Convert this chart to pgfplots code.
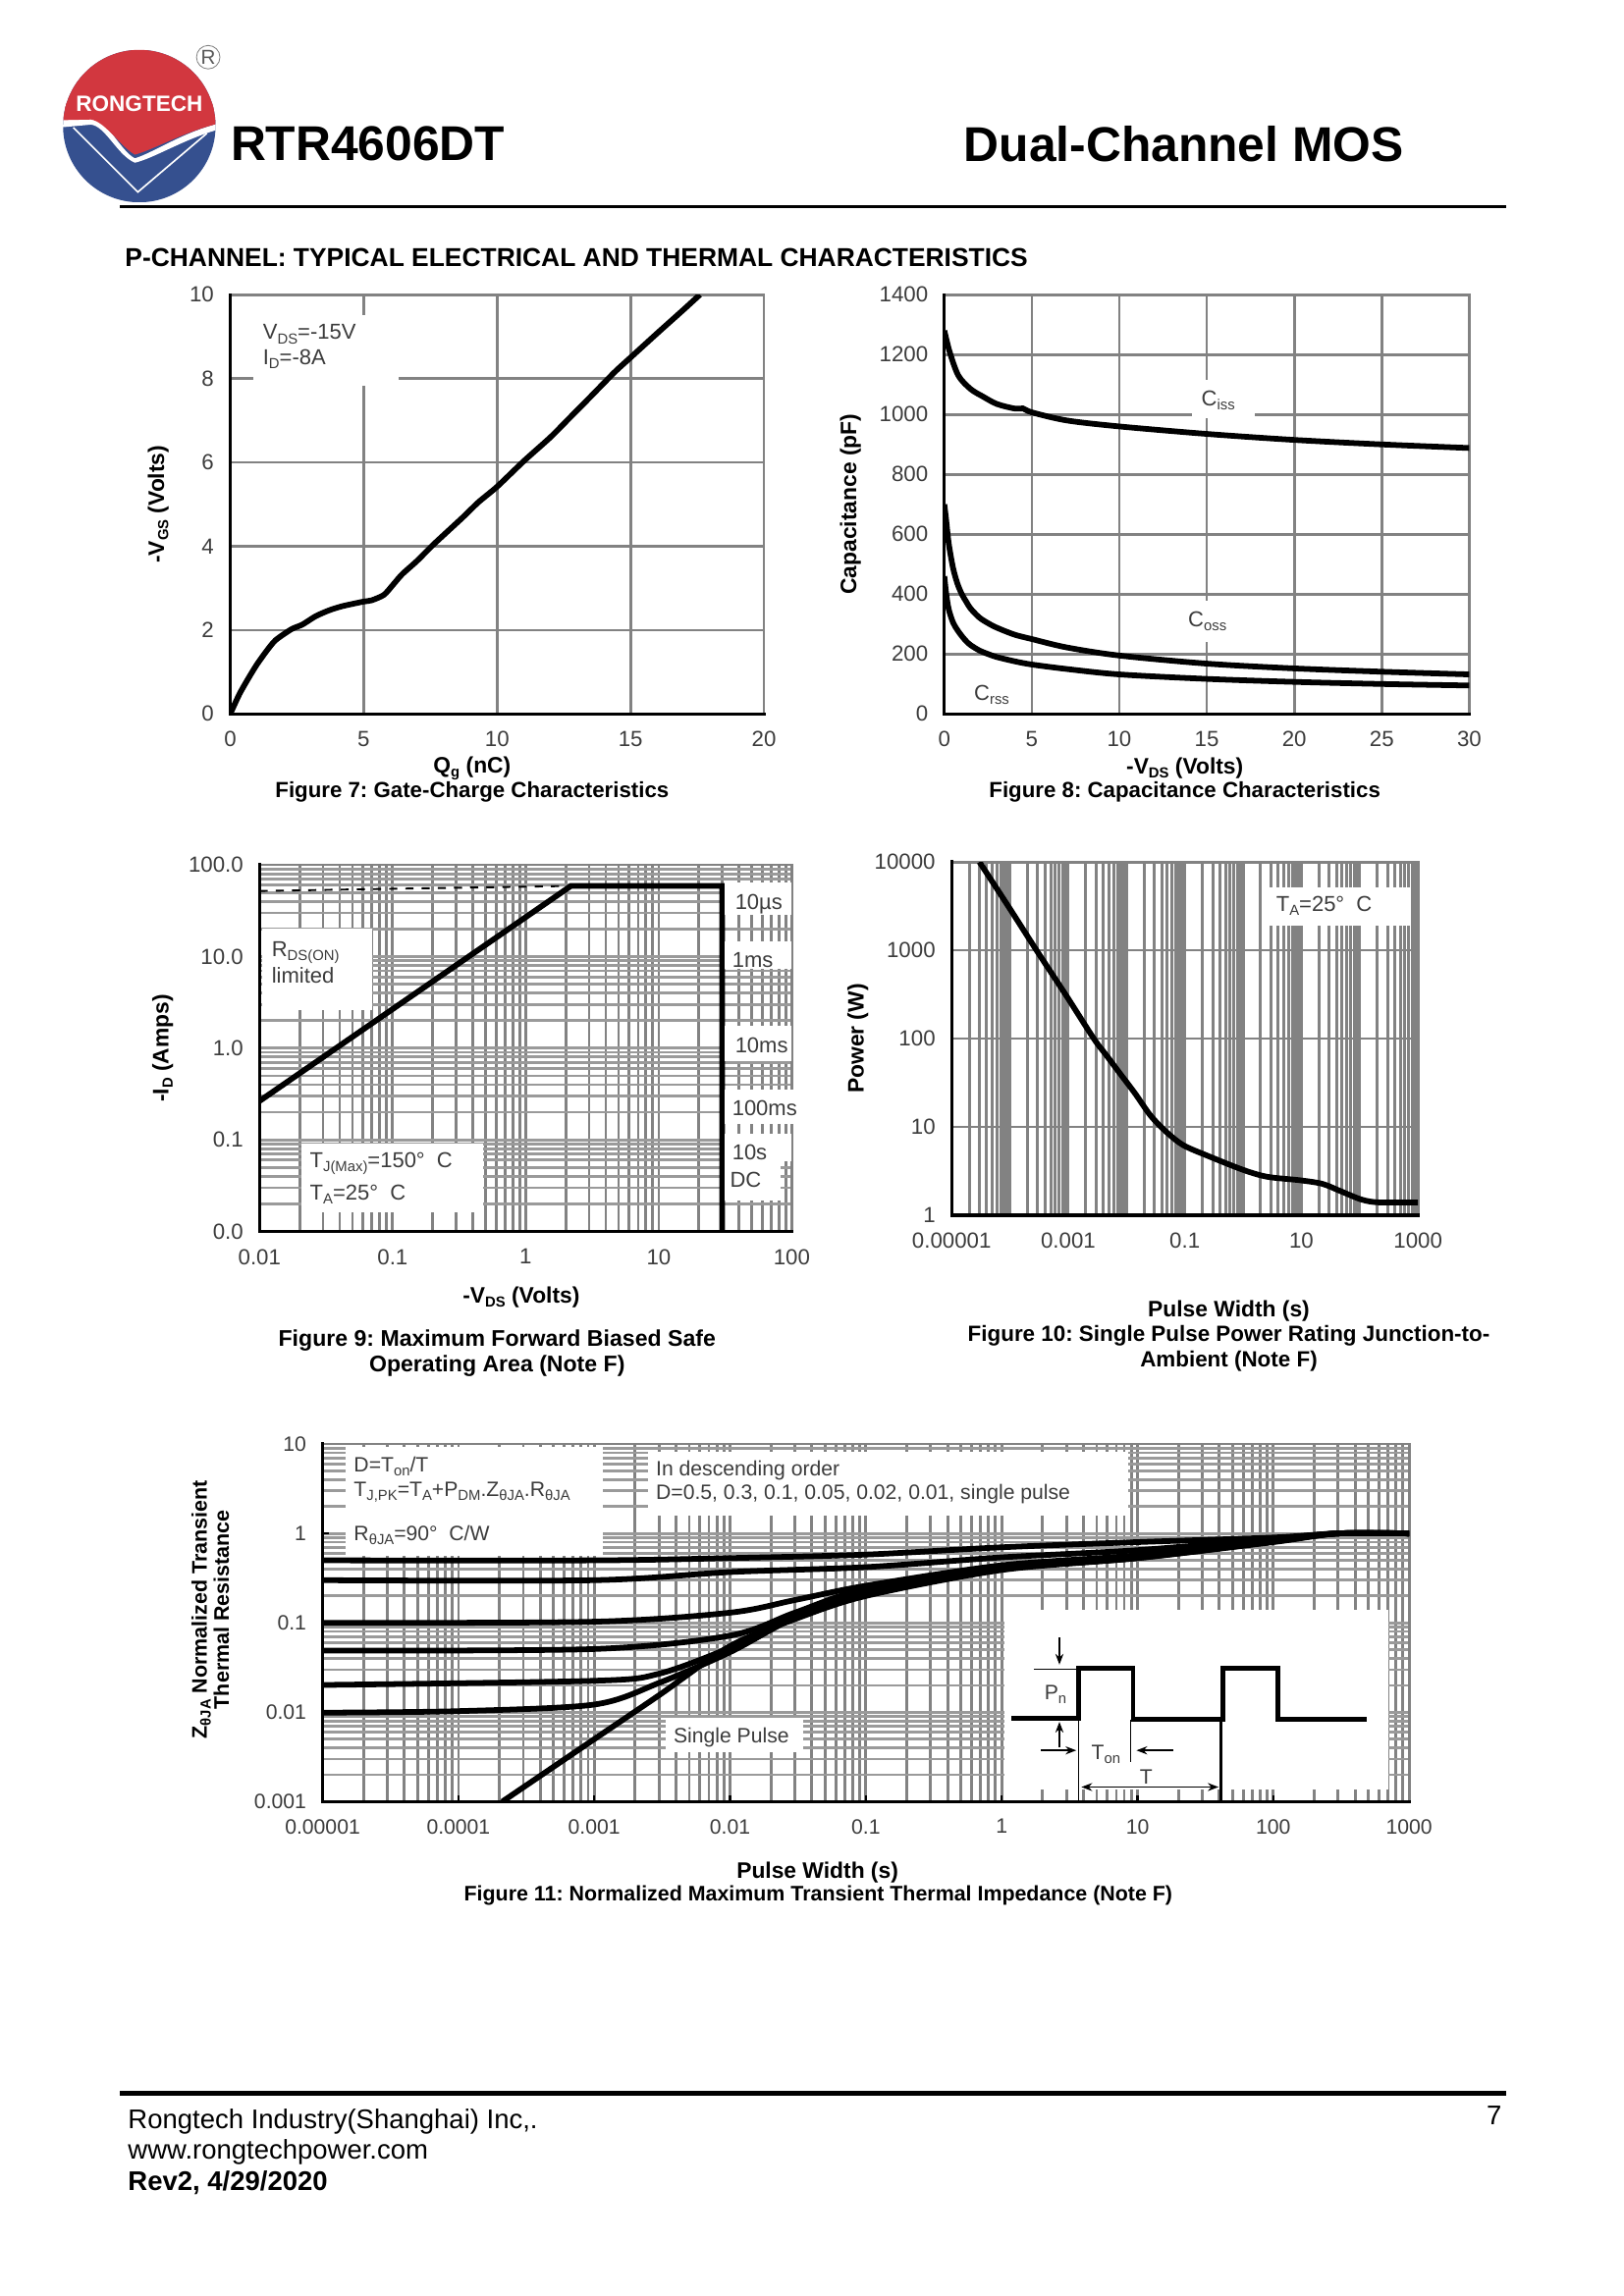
\documentclass[border=0pt]{standalone}
\usepackage{fontspec}
\setmainfont{Liberation Sans}
\usepackage{pgfplots}
\pgfplotsset{compat=1.18}
\usetikzlibrary{arrows.meta}
\frenchspacing
\def\u{0.5432pt}
\definecolor{gridgray}{HTML}{828282}
\definecolor{gridlight}{HTML}{9A9A9A}
\definecolor{txtgray}{HTML}{3C3C3C}
\definecolor{logored}{HTML}{D2373F}
\definecolor{logoblue}{HTML}{35508F}
\newcommand{\sub}[1]{\raisebox{-0.35ex}{\fontsize{5.4}{6}\selectfont #1}}
\pgfplotsset{
  chart/.style={
    scale only axis, anchor=south west,
    /pgf/number format/assume math mode=true,
    /pgf/number format/1000 sep={},
    axis line style={draw=gridgray, line width=1pt},
    tick style={draw=none},
    grid style={draw=gridgray, line width=1pt},
    tick label style={font=\fontsize{8.1}{10}\selectfont, text=txtgray},
    label style={font=\bfseries\fontsize{8.3}{9.5}\selectfont},
    xticklabel style={yshift=-3pt},
    yticklabel style={xshift=-2.5pt},
  },
  xlabpos/.style 2 args={xlabel style={at={([xshift=#1*\u,yshift=-#2*\u]axis description cs:0.5,0)},anchor=center}},
  ylabpos/.style 2 args={ylabel style={at={([xshift=-#1*\u,yshift=#2*\u]axis description cs:0,0.5)},anchor=center}},
  curve/.style={black, line width=2.1pt, no marks},
}
\tikzset{
  page/.style={x=\u, y=-\u},
  txt/.style={anchor=west, inner sep=0pt, font=\fontsize{8}{10}\selectfont, text=txtgray},
  txts/.style={anchor=west, inner sep=0pt, font=\fontsize{7.7}{10}\selectfont, text=txtgray},
  figcap/.style={inner sep=0pt, align=center, font=\bfseries\fontsize{#1}{9.5}\selectfont},
  axl/.style={black, line width=1.2pt, line cap=rect},
}
\begin{document}
\begin{tikzpicture}
\fill[white] (0,0) rectangle (1107.5*\u,-1566.2*\u);
\path[use as bounding box] (0,0) rectangle (1107.5*\u,-1566.2*\u);

% header and logo
\begin{scope}[page]
  \begin{scope}
    \clip (95,86) circle (52);
    \fill[logoblue] (43,34) rectangle (147,138);
    \fill[white] (40,79) -- (62,79) .. controls (72,80) and (82,103) .. (92,108)
      .. controls (105,104) and (125,90) .. (150,84) -- (150,88)
      .. controls (125,95) and (105,108) .. (92,111)
      .. controls (80,106) and (72,86) .. (62,85) -- (40,87) -- cycle;
    \fill[logored] (40,30) rectangle (150,75);
    \fill[logored] (40,82) -- (62,81.5) .. controls (72,83) and (82,100) .. (92,105.5)
      .. controls (105,102) and (125,90) .. (150,84) -- (150,70) -- (40,70) -- cycle;
    \draw[white, line width=0.6pt] (50,87) -- (94,131) -- (141,91);
  \end{scope}
  \node[white, inner sep=0pt, font=\bfseries\fontsize{8.2}{10}\selectfont] at (95,71) {RONGTECH};
  \draw[gray, line width=0.3pt] (142,39) circle (8);
  \node[inner sep=0pt, text=gray!70!black, font=\fontsize{7.5}{9}\selectfont] at (142,39) {R};
  \node[anchor=west, inner sep=0pt, font=\bfseries\fontsize{18.1}{20}\selectfont] at (157,98) {RTR4606DT};
  \node[anchor=west, inner sep=0pt, font=\bfseries\fontsize{18.1}{20}\selectfont] at (657,98) {Dual-Channel MOS};
  \draw[black, line width=0.9pt] (82,141) -- (1027,141);
  \node[anchor=west, inner sep=0pt, font=\bfseries\fontsize{9.6}{11}\selectfont] at (85,176)
    {P-CHANNEL: TYPICAL ELECTRICAL AND THERMAL CHARACTERISTICS};
\end{scope}

% Figure 7
\begin{axis}[chart, at={(157*\u,-487*\u)}, width=364*\u, height=286*\u,
  xmin=0, xmax=20, ymin=0, ymax=10,
  xtick={0,5,10,15,20}, ytick={0,2,4,6,8,10}, grid=major,
  xlabel={Q\sub{g} (nC)}, xlabpos={-17}{37},
  ylabel={-V\sub{GS} (Volts)}, ylabpos={49}{0}]
\addplot[curve, smooth, tension=0.4] coordinates {(0,0) (0.35,0.48) (0.7,0.87) (1,1.18) (1.36,1.5) (1.7,1.76)
  (2.29,2.02) (2.7,2.13) (3.2,2.33) (3.7,2.47) (4.2,2.57) (5,2.68) (5.3,2.71) (5.76,2.84)
  (6.1,3.08) (6.44,3.33) (7,3.65) (7.63,4.05) (8.7,4.68) (9.3,5.05) (10,5.42)
  (11,6.03) (12,6.6) (12.7,7.05) (13.4,7.5) (14.4,8.15) (15,8.5)
  (16,9.08) (17,9.65) (17.6,10)};
\end{axis}

% Figure 8
\begin{axis}[chart, at={(644*\u,-487*\u)}, width=358*\u, height=286*\u,
  xmin=0, xmax=30, ymin=0, ymax=1400,
  xtick={0,5,10,15,20,25,30}, ytick={0,200,400,600,800,1000,1200,1400}, grid=major,
  xlabel={-V\sub{DS} (Volts)}, xlabpos={-15}{37},
  ylabel={Capacitance (pF)}, ylabpos={64}{0}]
\addplot[curve, smooth] coordinates {(0,1280) (0.3,1210) (0.8,1130) (1.5,1085) (2.2,1060) (3,1035) (4,1020)
  (4.5,1020) (5,1007) (7,980) (10,960) (15,935) (20,915) (25,900) (30,888)};
\addplot[curve, smooth] coordinates {(0,700) (0.1,650) (0.25,570) (0.5,487) (0.75,435) (1,400) (1.25,375) (1.5,352)
  (2,322) (2.5,303) (3,288) (4,265) (5,250) (7,222) (10,195) (15,168) (20,152) (25,141) (30,132)};
\addplot[curve, smooth] coordinates {(0,460) (0.1,405) (0.25,350) (0.5,305) (0.75,280) (1,260) (1.25,243) (1.5,230)
  (2,212) (2.5,200) (3,190) (4,176) (5,165) (7,150) (10,132) (15,117) (20,107) (25,100) (30,95)};
\end{axis}

% Figure 9
\begin{axis}[chart, at={(177*\u,-840*\u)}, width=363*\u, height=250*\u,
  xmode=log, ymode=log, xmin=0.01, xmax=100, ymin=0.01, ymax=100,
  xtick={0.01,0.1,1,10,100}, xticklabels={0.01,0.1,1,10,100},
  ytick={0.01,0.1,1,10,100}, yticklabels={0.0,0.1,1.0,10.0,100.0},
  grid=both, minor grid style={draw=gridgray, line width=1pt},
  y grid style={draw=gridlight},
  xlabel={-V\sub{DS} (Volts)}, xlabpos={-3}{45},
  ylabel={-I\sub{D} (Amps)}, ylabpos={66}{0}]
\addplot[black, line width=0.7pt, dashed, no marks] coordinates {(0.01,52) (2.2,59)};
\addplot[curve, line join=miter] coordinates {(0.01,0.265) (2.19,59) (30,59) (30,0.01)};
\end{axis}

% Figure 10
\begin{axis}[chart, at={(649*\u,-829*\u)}, width=318*\u, height=241*\u,
  xmode=log, ymode=log, xmin=0.00001, xmax=1000, ymin=1, ymax=10000,
  xtick={0.00001,0.0001,0.001,0.01,0.1,1,10,100,1000}, xticklabels={0.00001,,0.001,,0.1,,10,,1000},
  ytick={1,10,100,1000,10000}, yticklabels={1,10,100,1000,10000},
  xmajorgrids, xminorgrids, ymajorgrids, minor grid style={draw=gridgray, line width=1.1pt},
  xlabel={Pulse Width (s)}, xlabpos={30}{65},
  ylabel={Power (W)}, ylabpos={64}{0}]
\addplot[curve, smooth] coordinates {(0.00003,10000) (0.0001,2950) (0.000286,1000) (0.0009,316) (0.00275,100)
  (0.0045,65) (0.0078,40) (0.014,24) (0.026,13.4)
  (0.05,8.6) (0.095,6.2) (0.25,4.7) (1,3.27) (2.6,2.73) (9.6,2.49) (23,2.27) (46,1.89)
  (107,1.51) (214,1.40) (1000,1.40)};
\end{axis}

% Figure 11
\begin{axis}[chart, at={(220*\u,-1229*\u)}, width=741*\u, height=244*\u,
  xmode=log, ymode=log, xmin=0.00001, xmax=1000, ymin=0.001, ymax=10,
  xtick={0.00001,0.0001,0.001,0.01,0.1,1,10,100,1000},
  xticklabels={0.00001,0.0001,0.001,0.01,0.1,1,10,100,1000},
  ytick={0.001,0.01,0.1,1,10}, yticklabels={0.001,0.01,0.1,1,10},
  tick label style={font=\fontsize{7.7}{10}\selectfont, text=txtgray},
  grid=both, minor grid style={draw=gridgray, line width=1pt},
  y grid style={draw=gridlight},
  tick style={draw=black, line width=0.8pt}, tick align=inside, tick pos=left,
  major tick length=2.5pt, minor tick length=0pt,
  xlabel={Pulse Width (s)}, xlabpos={-33}{48},
  ylabel={Z\sub{θJA} Normalized Transient\\Thermal Resistance}, ylabpos={76.5}{9},
  ylabel style={align=center, font=\bfseries\fontsize{7.8}{8.2}\selectfont}]
\addplot[curve, smooth] coordinates {(0.00001,0.5) (0.001,0.5) (0.01,0.53) (0.1,0.58) (1,0.7) (10,0.8) (100,0.9) (300,1) (1000,1)};
\addplot[curve, smooth] coordinates {(0.00001,0.3) (0.001,0.3) (0.01,0.37) (0.1,0.42) (1,0.54) (10,0.65) (100,0.87) (300,1) (1000,1)};
\addplot[curve, smooth] coordinates {(0.00001,0.1) (0.001,0.103) (0.01,0.13) (0.03,0.18) (0.1,0.26) (1,0.44) (10,0.57) (100,0.85) (300,1) (1000,1)};
\addplot[curve, smooth] coordinates {(0.00001,0.049) (0.001,0.051) (0.01,0.072) (0.03,0.13) (0.1,0.24) (1,0.42) (10,0.56) (100,0.84) (300,1) (1000,1)};
\addplot[curve, smooth] coordinates {(0.00001,0.0202) (0.001,0.0225) (0.003,0.027) (0.01,0.053) (0.03,0.125) (0.1,0.225) (1,0.4) (10,0.54) (100,0.82) (300,1) (1000,1)};
\addplot[curve, smooth] coordinates {(0.00001,0.0099) (0.0001,0.0103) (0.001,0.0122) (0.003,0.0213) (0.01,0.047) (0.03,0.114) (0.1,0.206) (1,0.4) (10,0.53) (100,0.81) (300,1) (1000,1)};
\addplot[curve, smooth] coordinates {(0.00021,0.001) (0.001,0.005) (0.003,0.0155) (0.01,0.055) (0.03,0.11) (0.1,0.2) (1,0.39) (10,0.53) (100,0.8) (300,1) (1000,1)};
\end{axis}

% annotations, axis lines, captions, footer
\begin{scope}[page]
  % Figure 7
  \draw[axl] (157,201) -- (157,487) -- (521,487);
  \fill[white] (173,215) rectangle (272,263);
  \node[txt] at (179,228) {V\sub{DS}=-15V};
  \node[txt] at (179,245) {I\sub{D}=-8A};
  \node[figcap=8.1] at (322,540) {Figure 7: Gate-Charge Characteristics};
  % Figure 8
  \draw[axl] (644,201) -- (644,487) -- (1002,487);
  \fill[white] (813,259) rectangle (856,285);
  \node[txt] at (819,273) {C\sub{iss}};
  \fill[white] (805,410) rectangle (840,438);
  \node[txt] at (810,424) {C\sub{oss}};
  \node[txt] at (664,474) {C\sub{rss}};
  \node[figcap=8.1] at (808,540) {Figure 8: Capacitance Characteristics};
  % Figure 9
  \draw[axl] (177,590) -- (177,840) -- (540,840);
  \fill[white] (178.5,633.5) rectangle (254,689);
  \node[txt] at (185,650) {R\sub{DS(ON)}};
  \node[txt] at (185,665) {limited};
  \fill[white] (205.5,780) rectangle (329.5,827);
  \node[txt] at (211,794) {T\sub{J(Max)}=150°~ C};
  \node[txt] at (211,815) {T\sub{A}=25°~ C};
  \fill[white] (494,602) rectangle (540,624);
  \node[txt] at (501,617) {10µs};
  \fill[white] (494,642) rectangle (540,661);
  \node[txt] at (499,655) {1ms};
  \fill[white] (494,700) rectangle (540,724);
  \node[txt] at (501,713) {10ms};
  \fill[white] (494,743) rectangle (546,767);
  \node[txt] at (499,756) {100ms};
  \fill[white] (494,773.5) rectangle (540,792);
  \fill[white] (494,792) rectangle (532,819);
  \node[txt] at (499,786) {10s};
  \node[txt] at (497.5,805) {DC};
  \node[figcap=8.4] at (339,923) {Figure 9: Maximum Forward Biased Safe\\Operating Area (Note F)};
  % Figure 10
  \draw[axl] (649,588) -- (649,829) -- (967,829);
  \fill[white] (866,605.5) rectangle (961.5,631.5);
  \node[txt] at (870,618) {T\sub{A}=25°~ C};
  \node[figcap=8.15] at (838,920) {Figure 10: Single Pulse Power Rating Junction-to-\\Ambient (Note F)};
  % Figure 11
  \draw[axl] (220,985) -- (220,1229) -- (961,1229);
  \fill[white] (236,987) rectangle (411,1061);
  \node[txts] at (241,1000) {D=T\sub{on}/T};
  \node[txts] at (241,1018) {T\sub{J,PK}=T\sub{A}+P\sub{DM}.Z\sub{θJA}.R\sub{θJA}};
  \node[txts] at (241,1047) {R\sub{θJA}=90°~ C/W};
  \fill[white] (442,990.5) rectangle (769.5,1034);
  \node[txts] at (447,1003) {In descending order};
  \node[txts] at (447,1019) {D=0.5, 0.3, 0.1, 0.05, 0.02, 0.01, single pulse};
  \fill[white] (454,1172) rectangle (547.5,1195);
  \node[txts] at (459,1185) {Single Pulse};
  \fill[white] (685,1098) rectangle (947,1221);
  % pulse inset
  \draw[black, line width=1.7pt, line join=miter] (690,1172) -- (735.5,1172) -- (735.5,1138) -- (772.8,1138)
    -- (772.8,1173) -- (834,1173) -- (834,1138) -- (871.5,1138) -- (871.5,1173) -- (932,1173);
  \draw[black, line width=0.5pt] (705,1138.5) -- (735.5,1138.5);
  \draw[black, line width=0.5pt] (735.5,1172) -- (735.5,1229);
  \draw[black, line width=0.5pt] (771,1173) -- (771,1202);
  \draw[black, line width=0.9pt] (832.5,1173) -- (832.5,1229);
  \draw[black, line width=0.5pt, -{Stealth[length=4pt,width=3pt]}] (722.5,1117) -- (722.5,1135.5);
  \draw[black, line width=0.5pt, -{Stealth[length=4pt,width=3pt]}] (722.5,1192) -- (722.5,1174.5);
  \draw[black, line width=0.5pt, -{Stealth[length=4pt,width=3pt]}] (710,1194) -- (734,1194);
  \draw[black, line width=0.5pt, -{Stealth[length=4pt,width=3pt]}] (800,1194) -- (775,1194);
  \draw[black, line width=0.5pt, {Stealth[length=4pt,width=3pt]}-{Stealth[length=4pt,width=3pt]}] (737.5,1219) -- (831,1219);
  \node[txts] at (712,1156) {P\sub{n}};
  \node[txts] at (744,1197) {T\sub{on}};
  \node[txts] at (777,1212) {T};
  \node[figcap=7.78] at (558,1293) {Figure 11: Normalized Maximum Transient Thermal Impedance (Note F)};
  % footer
  \draw[black, line width=1.7pt] (82,1428) -- (1027,1428);
  \node[anchor=west, inner sep=0pt, font=\fontsize{10}{12}\selectfont] at (87,1447) {Rongtech Industry(Shanghai) Inc,.};
  \node[anchor=west, inner sep=0pt, font=\fontsize{10}{12}\selectfont] at (87,1468) {www.rongtechpower.com};
  \node[anchor=west, inner sep=0pt, font=\bfseries\fontsize{10}{12}\selectfont] at (87,1489) {Rev2, 4/29/2020};
  \node[inner sep=0pt, font=\fontsize{10}{12}\selectfont] at (1019,1443) {7};
\end{scope}
\end{tikzpicture}
\end{document}
